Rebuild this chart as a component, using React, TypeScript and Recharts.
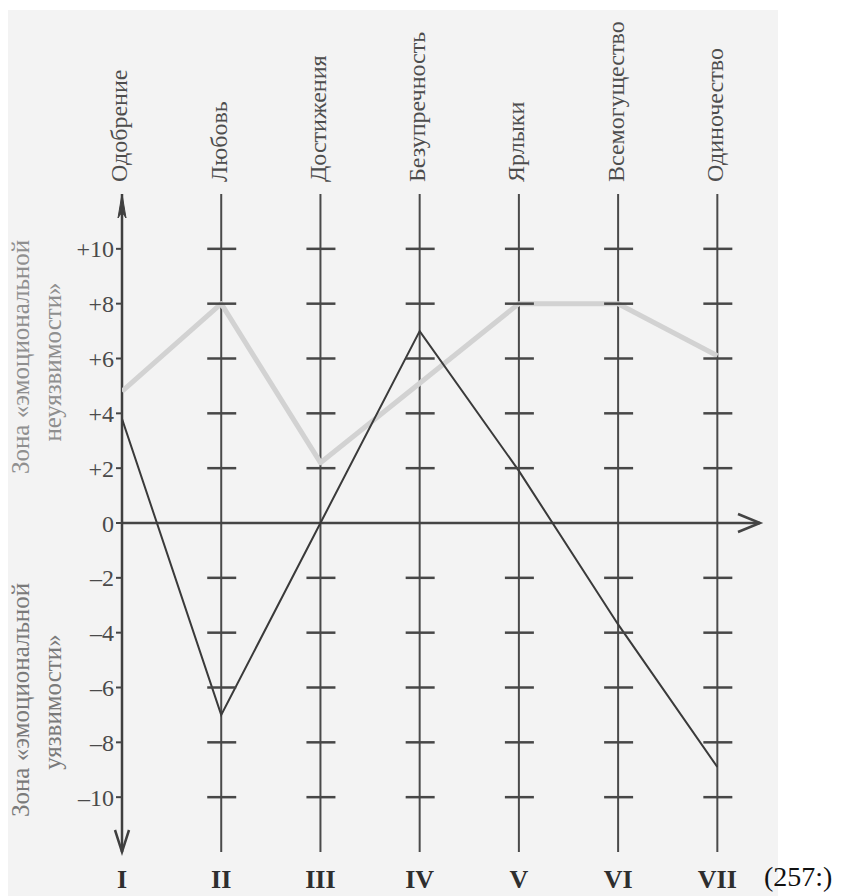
import {
  ComposedChart,
  Line,
  Scatter,
  XAxis,
  YAxis,
  ReferenceLine,
  Customized,
} from "recharts";

const categories = [
  "Одобрение",
  "Любовь",
  "Достижения",
  "Безупречность",
  "Ярлыки",
  "Всемогущество",
  "Одиночество",
];
const romanLabels = ["I", "II", "III", "IV", "V", "VI", "VII"];
const mainScores = [3.8, -7, 0, 7, 1.9, -3.7, -8.9];
const fadedScores = [4.8, 8, 2.2, 5.1, 8, 8, 6.1];
const scaleTicks = [-10, -8, -6, -4, -2, 0, 2, 4, 6, 8, 10];
const yLimit = 12;
const xLimit = 6.43;

const FONT = "'Liberation Serif', 'DejaVu Serif', serif";

const rows = categories.map((name, i) => ({
  x: i,
  name,
  main: mainScores[i],
  faded: fadedScores[i],
}));

// cross ticks on the axes II..VII
const tickMarks = categories
  .slice(1)
  .flatMap((_, k) =>
    scaleTicks.filter((v) => v !== 0).map((v) => ({ x: k + 1, y: v }))
  );

const fmt = (v: number) => (v > 0 ? `+${v}` : v < 0 ? `–${-v}` : "0");

const TopTick = (p: any) => {
  const x = p.x - 3;
  return (
    <text
      x={x}
      y={p.y}
      dy="0.35em"
      transform={`rotate(-90 ${x} ${p.y})`}
      textAnchor="start"
      fontFamily={FONT}
      fontSize={24}
      fill="#4d4d4d"
    >
      {categories[p.payload.value]}
    </text>
  );
};

const BottomTick = (p: any) => (
  <text
    x={p.x}
    y={p.y + 36}
    textAnchor="middle"
    fontFamily={FONT}
    fontWeight="bold"
    fontSize={26}
    fill="#2e2e2e"
  >
    {romanLabels[p.payload.value]}
  </text>
);

const CrossTick = (p: any) => (
  <line
    x1={p.cx - 14}
    x2={p.cx + 15}
    y1={p.cy}
    y2={p.cy}
    stroke="#474747"
    strokeWidth={2.5}
  />
);

const VerticalArrow = (p: any) => {
  const x = p.x1;
  const top = Math.min(p.y1, p.y2);
  const bottom = Math.max(p.y1, p.y2);
  return (
    <g stroke="#3f3f3f" fill="none">
      <line x1={x} x2={x} y1={top} y2={bottom} strokeWidth={2.5} />
      <path
        d={`M${x} ${top} L${x - 4} ${top + 24} L${x} ${top + 18} L${x + 4} ${top + 24} Z`}
        fill="#3f3f3f"
        strokeWidth={1}
      />
      <path
        d={`M${x - 7} ${bottom - 22} L${x} ${bottom} L${x + 7} ${bottom - 22}`}
        strokeWidth={2.5}
      />
    </g>
  );
};

const HorizontalArrow = (p: any) => {
  const right = Math.max(p.x1, p.x2);
  const left = Math.min(p.x1, p.x2);
  const y = p.y1;
  return (
    <g stroke="#444" fill="none" strokeWidth={2.5}>
      <line x1={left} x2={right} y1={y} y2={y} />
      <path d={`M${right - 22} ${y - 9} L${right} ${y} L${right - 22} ${y + 9}`} />
    </g>
  );
};

function Annotations() {
  return (
    <g fontFamily={FONT} fontSize={25} textAnchor="middle">
      <text transform="translate(20,357) rotate(-90)" dy="0.35em" fill="#8f8f8f">
        Зона «эмоциональной
      </text>
      <text transform="translate(52,362) rotate(-90)" dy="0.35em" fill="#8f8f8f">
        неуязвимости»
      </text>
      <text transform="translate(20,700) rotate(-90)" dy="0.35em" fill="#7a7a7a">
        Зона «эмоциональной
      </text>
      <text transform="translate(52,702) rotate(-90)" dy="0.35em" fill="#7a7a7a">
        уязвимости»
      </text>
      <text x={764} y={886} fontSize={28} fill="#111" textAnchor="start">
        (257:)
      </text>
    </g>
  );
}

export default function App() {
  return (
    <div
      style={{
        position: "absolute",
        left: 0,
        top: 0,
        width: 843,
        height: 896,
        background: "#fff",
        overflow: "hidden",
      }}
    >
      <div
        style={{
          position: "absolute",
          left: 8,
          top: 10,
          width: 770,
          height: 886,
          background: "#f3f3f3",
        }}
      />
      <div style={{ position: "absolute", left: 0, top: 0 }}>
        <ComposedChart
          width={843}
          height={896}
          data={rows}
          margin={{ top: 0, right: 83, bottom: 0, left: 0 }}
        >
          <XAxis
            dataKey="x"
            type="number"
            domain={[0, xLimit]}
            ticks={[0, 1, 2, 3, 4, 5, 6]}
            interval={0}
            allowDataOverflow
            height={44}
            axisLine={false}
            tickLine={false}
            tickSize={0}
            tickMargin={0}
            tick={<BottomTick />}
          />
          <XAxis
            xAxisId="top"
            orientation="top"
            dataKey="x"
            type="number"
            domain={[0, xLimit]}
            ticks={[0, 1, 2, 3, 4, 5, 6]}
            interval={0}
            allowDataOverflow
            height={194}
            axisLine={false}
            tickLine={false}
            tickSize={0}
            tickMargin={12}
            tick={<TopTick />}
          />
          <YAxis
            type="number"
            domain={[-yLimit, yLimit]}
            ticks={scaleTicks}
            interval={0}
            allowDataOverflow
            width={122}
            axisLine={false}
            tickLine={{ stroke: "#444", strokeWidth: 2 }}
            tickSize={6}
            tickMargin={2}
            tickFormatter={fmt}
            tick={{ fill: "#4a4a4a", fontSize: 24, fontFamily: FONT }}
          />
          {categories.slice(1).map((_, k) => (
            <ReferenceLine
              key={k}
              x={k + 1}
              stroke="#4a4a4a"
              strokeWidth={2}
            />
          ))}
          <ReferenceLine
            segment={[
              { x: 0, y: 0 },
              { x: xLimit, y: 0 },
            ]}
            shape={<HorizontalArrow />}
          />
          <ReferenceLine
            segment={[
              { x: 0, y: -yLimit },
              { x: 0, y: yLimit },
            ]}
            shape={<VerticalArrow />}
          />
          <Scatter
            data={tickMarks}
            dataKey="y"
            shape={<CrossTick />}
            isAnimationActive={false}
          />
          <Line
            dataKey="faded"
            type="linear"
            stroke="#d2d2d2"
            strokeWidth={5}
            strokeLinejoin="round"
            dot={false}
            isAnimationActive={false}
          />
          <Line
            dataKey="main"
            type="linear"
            stroke="#3a3a3a"
            strokeWidth={2}
            dot={false}
            isAnimationActive={false}
          />
          <Customized component={<Annotations />} />
        </ComposedChart>
      </div>
    </div>
  );
}
